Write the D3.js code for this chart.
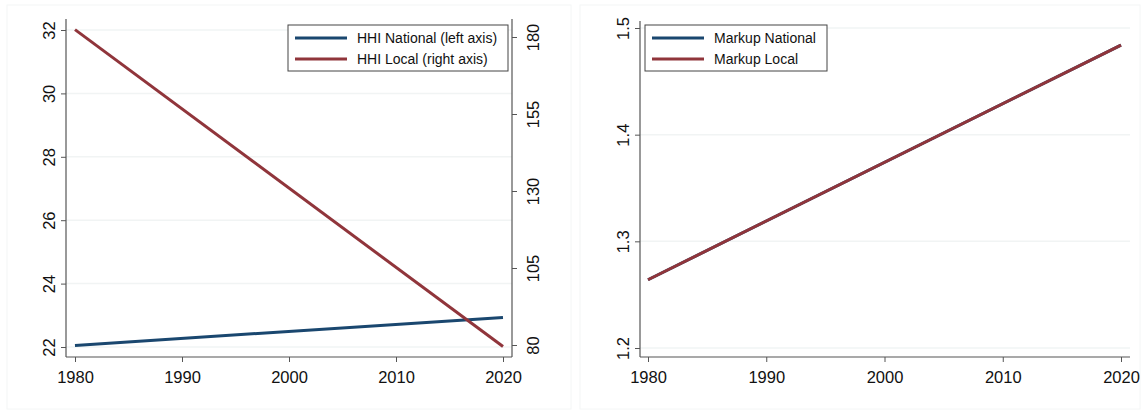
<!DOCTYPE html>
<html>
<head>
<meta charset="utf-8">
<script src="https://cdn.jsdelivr.net/npm/d3@7"></script>
<style>
  body { margin: 0; background: #fff; }
  text { font-family: "Liberation Sans", Arial, sans-serif; }
</style>
</head>
<body>
<div id="chart"></div>
<script>
// two Stata-style panels: HHI (dual axis) and Markup

const width = 1146, height = 415;

const years = [1980, 2020];
const xTicks = [1980, 1990, 2000, 2010, 2020];

const hhiNational = [22.05, 22.93];   // left axis
const hhiLocal = [182.4, 79.5];       // right axis
const hhiLeftTicks = [22, 24, 26, 28, 30, 32];
const hhiRightTicks = [80, 105, 130, 155, 180];

const markupNational = [1.264, 1.484];
const markupLocal = [1.264, 1.484];
const markupTicks = [1.2, 1.3, 1.4, 1.5];

const navy = "#1a476f", maroon = "#90353b", axisCol = "#555";
const tickFont = 16.5;

const svg = d3.select("#chart")
    .append("svg")
    .attr("width", width)
    .attr("height", height);

// faint panel frames
[[7, 5, 564, 404], [580, 5, 560, 404]].forEach(([x, y, w, h]) => {
    svg.append("rect")
        .attr("x", x).attr("y", y).attr("width", w).attr("height", h)
        .attr("fill", "#fff")
        .attr("stroke", "#f4f6f6");
});

function yAxisStyle(g) {
    g.select(".domain").attr("stroke", axisCol).attr("stroke-width", 1.2);
    g.selectAll(".tick line").attr("stroke", axisCol);
    g.selectAll(".tick text")
        .attr("font-size", tickFont)
        .attr("fill", "#111");
}

function panel(opts) {
    const x = d3.scaleLinear().domain([1980, 2020]).range(opts.xr);
    const y = d3.scaleLinear().domain(opts.yd).range(opts.yr);
    const g = svg.append("g");

    // grid
    g.selectAll(".grid")
        .data(opts.yTicks)
        .join("line")
        .attr("x1", opts.left).attr("x2", opts.right)
        .attr("y1", d => y(d)).attr("y2", d => y(d))
        .attr("stroke", "#f1f4f4").attr("stroke-width", 1.5);

    // x axis
    const xa = g.append("g")
        .attr("transform", `translate(0,${opts.bottom})`)
        .call(d3.axisBottom(x).tickValues(xTicks).tickFormat(d3.format("d")).tickSizeOuter(0).tickSize(5));
    xa.select(".domain").attr("d", `M${opts.left},0H${opts.right}`).attr("stroke", axisCol).attr("stroke-width", 1.2);
    xa.selectAll(".tick line").attr("stroke", axisCol);
    xa.selectAll(".tick text").attr("font-size", tickFont).attr("fill", "#111").attr("dy", 18);

    // left y axis
    const ya = g.append("g")
        .attr("transform", `translate(${opts.left},0)`)
        .call(d3.axisLeft(y).tickValues(opts.yTicks).tickFormat(opts.fmt).tickSize(5).tickSizeOuter(0));
    ya.select(".domain").attr("d", `M0,${opts.top}V${opts.bottom}`);
    yAxisStyle(ya);
    ya.selectAll(".tick text")
        .attr("x", null).attr("dy", null)
        .attr("text-anchor", "middle")
        .attr("transform", "translate(-11,0) rotate(-90)");

    return { x, y, g };
}

// ---- left panel ----
const L = panel({
    xr: [75, 503], yd: [22, 32], yr: [347, 30],
    left: 66, right: 512, top: 19, bottom: 357,
    yTicks: hhiLeftTicks, fmt: d3.format("d")
});
const yR = d3.scaleLinear().domain([80, 180]).range([345, 37]);
const ra = L.g.append("g")
    .attr("transform", "translate(512,0)")
    .call(d3.axisRight(yR).tickValues(hhiRightTicks).tickSize(5).tickSizeOuter(0));
ra.select(".domain").attr("d", "M0,19V357");
yAxisStyle(ra);
ra.selectAll(".tick text")
    .attr("x", null).attr("dy", null)
    .attr("text-anchor", "middle")
    .attr("transform", "translate(27,0) rotate(-90)");

const lineL = d3.line().x((d, i) => L.x(years[i]));
L.g.append("path")
    .attr("d", lineL.y(d => L.y(d))(hhiNational))
    .attr("fill", "none").attr("stroke", navy).attr("stroke-width", 3);
L.g.append("path")
    .attr("d", lineL.y(d => yR(d))(hhiLocal))
    .attr("fill", "none").attr("stroke", maroon).attr("stroke-width", 3);

// ---- right panel ----
const R = panel({
    xr: [648, 1121], yd: [1.2, 1.5], yr: [348, 28],
    left: 640, right: 1130, top: 21, bottom: 357,
    yTicks: markupTicks, fmt: d3.format(".1f")
});
const lineR = d3.line().x((d, i) => R.x(years[i])).y(d => R.y(d));
R.g.append("path").attr("d", lineR(markupNational))
    .attr("fill", "none").attr("stroke", navy).attr("stroke-width", 3);
R.g.append("path").attr("d", lineR(markupLocal))
    .attr("fill", "none").attr("stroke", maroon).attr("stroke-width", 3);

// legends
function legend(x, y, w, items) {
    const lg = svg.append("g").attr("transform", `translate(${x},${y})`);
    lg.append("rect").attr("width", w).attr("height", 46)
        .attr("fill", "#fff").attr("stroke", "#444").attr("stroke-width", 1);
    items.forEach((it, i) => {
        const cy = 13 + i * 21;
        lg.append("line").attr("x1", 7).attr("x2", 59).attr("y1", cy).attr("y2", cy)
            .attr("stroke", it.c).attr("stroke-width", 3);
        lg.append("text").attr("x", 69).attr("y", cy).attr("dy", "0.35em")
            .attr("font-size", 14).attr("fill", "#111").text(it.t);
    });
}
legend(288, 25, 220, [{ t: "HHI National (left axis)", c: navy }, { t: "HHI Local (right axis)", c: maroon }]);
legend(645, 25, 182, [{ t: "Markup National", c: navy }, { t: "Markup Local", c: maroon }]);
</script>
</body>
</html>
